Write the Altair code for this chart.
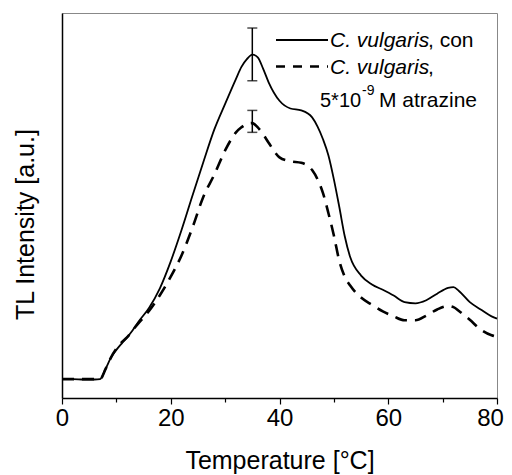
import altair as alt
import pandas as pd

# ---- data ----
temperature = [0, 2, 4, 6, 7, 8, 9, 10, 11, 12, 13, 14, 16, 18, 20, 22, 24, 26, 28, 30,
               32, 33, 34, 35, 36, 37, 38, 40, 42, 44, 46, 47, 48, 49, 50, 51, 52, 53,
               55, 57, 59, 61, 63, 65, 67, 69, 71, 72, 73, 75, 77, 79, 80]
control = [4.9, 4.9, 4.8, 4.8, 4.9, 7.5, 10.5, 12.5, 14.2, 15.8, 17.6, 19.7, 23.4, 28.5,
           35.5, 43.7, 52.6, 61.3, 69.7, 76.4, 82.9, 86.0, 88.0, 89.2, 88.5, 85.5, 82.0,
           77.2, 75.2, 74.7, 72.9, 70.5, 67.2, 63.0, 56.8, 49.6, 42.0, 36.6, 31.8, 29.5,
           28.1, 26.6, 24.9, 24.6, 25.4, 27.1, 28.6, 28.8, 27.8, 24.9, 23.0, 21.2, 20.6]
atrazine = [4.9, 4.9, 4.9, 4.9, 4.9, 7.5, 10.5, 12.8, 14.5, 15.8, 17.6, 19.3, 22.6, 26.7,
            31.5, 37.1, 44.3, 52.3, 58.0, 64.3, 69.0, 70.3, 71.2, 71.4, 70.3, 68.5, 66.3,
            62.5, 61.5, 61.1, 59.2, 56.8, 53.2, 48.0, 42.2, 35.6, 31.5, 29.2, 26.1, 24.2,
            22.5, 21.2, 20.2, 20.2, 21.4, 23.0, 23.9, 23.6, 22.6, 20.3, 17.8, 16.3, 15.9]
err_temp = [35, 35]
err_low = [82.4, 69.0]
err_high = [96.1, 74.7]
x_ticks = [0, 10, 20, 30, 40, 50, 60, 70, 80]
legend_italic = "C. vulgaris"
legend_rest1 = ", con"
legend_rest2 = ","
legend_line3 = ["5*10", "-9", "M atrazine"]

FONT = "Liberation Sans"

df = pd.DataFrame({"T": temperature, "con": control, "atr": atrazine})
df_err = pd.DataFrame({"T": err_temp, "lo": err_low, "hi": err_high})
one = pd.DataFrame({"a": [0]})

xscale = alt.Scale(domain=[0, 80], nice=False, zero=False)
yscale = alt.Scale(domain=[0, 100], nice=False, zero=False)

x_axis = alt.Axis(
    values=x_ticks,
    labelExpr="datum.value % 20 === 0 ? datum.label : ''",
    tickSize={"condition": {"test": "datum.value % 20 === 0", "value": 6}, "value": 4},
    labelOffset={"condition": {"test": "datum.value === 80", "value": -7}, "value": 0},
    labelFontSize=24, labelPadding=2, labelFlush=False, labelColor="black",
    titleFontSize=25, titleFontWeight="normal", titleColor="black",
    titleY=70, titleBaseline="alphabetic",
    domainColor="black", domainWidth=1.5, tickColor="black", tickWidth=1.2,
    grid=False,
)
y_axis = alt.Axis(
    labels=False, ticks=False, grid=False,
    domainColor="black", domainWidth=1.5,
    titleFontSize=25, titleFontWeight="normal", titleColor="black",
    titleX=-29, titleY=211, titleBaseline="alphabetic", titleAngle=270,
    titleAlign="center",
)

base = alt.Chart(df).encode(
    x=alt.X("T:Q", scale=xscale, axis=x_axis, title="Temperature [°C]")
)
solid = base.mark_line(color="black", strokeWidth=1.8, interpolate="monotone").encode(
    y=alt.Y("con:Q", scale=yscale, axis=y_axis, title="TL Intensity [a.u.]")
)
dashed = base.mark_line(color="black", strokeWidth=2.6, strokeDash=[12, 8],
                        interpolate="monotone").encode(
    y=alt.Y("atr:Q", scale=yscale)
)

eb = alt.Chart(df_err)
err_rule = eb.mark_rule(color="black", strokeWidth=1.5).encode(
    x=alt.X("T:Q", scale=xscale), y=alt.Y("lo:Q", scale=yscale), y2="hi:Q"
)
cap_lo = eb.mark_tick(color="black", orient="horizontal", size=10, thickness=1.5).encode(
    x=alt.X("T:Q", scale=xscale), y=alt.Y("lo:Q", scale=yscale)
)
cap_hi = eb.mark_tick(color="black", orient="horizontal", size=10, thickness=1.5).encode(
    x=alt.X("T:Q", scale=xscale), y=alt.Y("hi:Q", scale=yscale)
)

lg = alt.Chart(one)
leg_solid = lg.mark_rule(color="black", strokeWidth=1.8).encode(
    x=alt.value(214), x2=alt.value(266), y=alt.value(27)
)
leg_dash = lg.mark_rule(color="black", strokeWidth=2.6, strokeDash=[9, 8]).encode(
    x=alt.value(214), x2=alt.value(266), y=alt.value(53.5)
)

def txt(s, x, y, size=21, style="normal"):
    return lg.mark_text(align="left", baseline="alphabetic", font=FONT, fontSize=size,
                        fontStyle=style, color="black").encode(
        x=alt.value(x), y=alt.value(y), text=alt.value(s))

texts = [
    txt(legend_italic, 268, 34, style="italic"),
    txt(legend_rest1, 366, 34),
    txt(legend_italic, 268, 60.5, style="italic"),
    txt(legend_rest2, 366, 60.5),
    txt(legend_line3[0], 258, 94, size=20),
    txt(legend_line3[1], 300, 82, size=14),
    txt(legend_line3[2], 317, 94),
]

chart = alt.layer(solid, dashed, err_rule, cap_lo, cap_hi, leg_solid, leg_dash, *texts).properties(
    width=435, height=385,
    autosize=alt.AutoSizeParams(type="none"),
    padding={"left": 54, "top": 5, "right": 7, "bottom": 77},
).configure_view(stroke="#888888", strokeWidth=1).configure_axis(
    labelFont=FONT, titleFont=FONT
)

chart.save("out.html", embed_options={"renderer": "svg", "actions": False})
